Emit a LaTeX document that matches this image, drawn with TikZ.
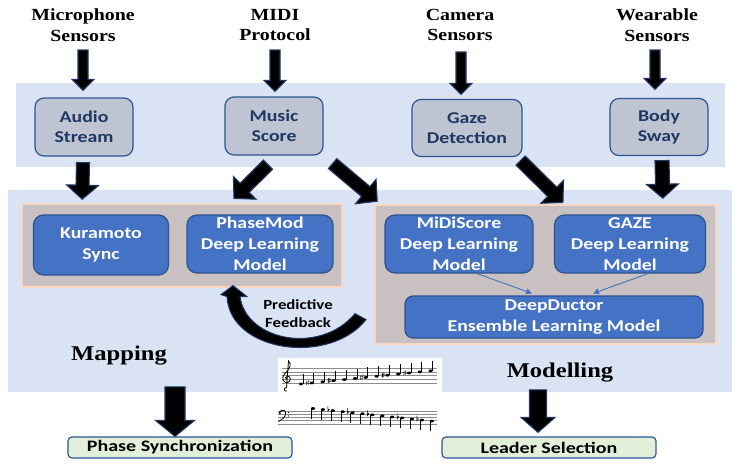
\documentclass[tikz,border=0pt]{standalone}
\usepackage{fontspec}
\setmainfont{Liberation Serif}[FakeStretch=1.17]
\newfontfamily\boxfont{Carlito}[FakeStretch=1.2]
\newfontfamily\botfont{Carlito}[FakeStretch=1.25]
\usetikzlibrary{calc,arrows.meta}
\definecolor{band}{HTML}{DAE3F3}
\definecolor{topfill}{HTML}{BEC4D1}
\definecolor{topborder}{HTML}{2F5597}
\definecolor{navytext}{HTML}{1F3864}
\definecolor{bluefill}{HTML}{4472C4}
\definecolor{blueborder}{HTML}{2F528F}
\definecolor{panelfill}{HTML}{C9C1C1}
\definecolor{panelborder}{HTML}{F6D8C2}
\definecolor{greenfill}{HTML}{E2F0D9}
\definecolor{greenborder}{HTML}{2F5597}
\definecolor{arrowline}{HTML}{203864}
\definecolor{staffgray}{HTML}{8C8C8C}
\newcommand\blockarr[5]{%
  \coordinate (ba1) at #1; \coordinate (ba2) at #2;
  \coordinate (bah) at ($(ba2)!#5!(ba1)$);
  \draw[barrow] ($(ba1)!#3!90:(ba2)$) -- ($(bah)!#3!90:(ba2)$) -- ($(bah)!#4!90:(ba2)$)
    -- (ba2) -- ($(bah)!#4!-90:(ba2)$) -- ($(bah)!#3!-90:(ba2)$) -- ($(ba1)!#3!-90:(ba2)$) -- cycle;
}
\tikzset{
  barrow/.style={fill=black, draw=arrowline, line width=1.1pt, line join=miter},
  lbl/.style={font=\fontsize{17}{20.5}\selectfont\bfseries, align=center, inner sep=0pt},
  biglbl/.style={font=\fontsize{21}{24}\selectfont\bfseries, inner sep=0pt},
  topbox/.style={draw=topborder, fill=topfill, line width=1.2pt, rounded corners=9pt,
    text=navytext, font=\boxfont\fontsize{16.5}{20}\selectfont\bfseries, align=center, inner sep=0pt},
  bluebox/.style={draw=blueborder, fill=bluefill, line width=1.2pt, rounded corners=10pt,
    text=white, font=\boxfont\fontsize{16.5}{20.5}\selectfont\bfseries, align=center, inner sep=0pt},
  panel/.style={draw=panelborder, fill=panelfill, line width=1.6pt, inner sep=0pt},
  botbox/.style={draw=greenborder, fill=greenfill, line width=1.2pt, rounded corners=4pt,
    font=\botfont\fontsize{16}{18}\selectfont\bfseries, inner sep=0pt},
  thinarr/.style={draw=bluefill, line width=0.9pt, -{Triangle[width=6pt,length=6pt]}},
  fbtext/.style={font=\boxfont\fontsize{14}{18}\selectfont\bfseries, align=center, inner sep=0pt}
}
\begin{document}
\begin{tikzpicture}[x=1pt,y=-1pt]
\useasboundingbox (0,0) rectangle (741,466);
\fill[white] (0,0) rectangle (741,466);
% bands
\fill[band] (16,83) rectangle (725,167);
\fill[band] (8,190) rectangle (732,392);
% panels
\node[panel, minimum width=320pt, minimum height=83pt] (lp) at (182,245.5) {};
\node[panel, minimum width=341pt, minimum height=139pt] (rp) at (545.5,274.5) {};
% top labels
\node[lbl] (mic) at (83,25) {Microphone\\Sensors};
\node[lbl] (midi) at (275,25) {MIDI\\Protocol};
\node[lbl] (cam) at (460,25) {Camera\\Sensors};
\node[lbl] (wear) at (657,25) {Wearable\\Sensors};
% top boxes
\node[topbox, minimum width=98pt, minimum height=58pt] (audio) at (84,127) {Audio\\Stream};
\node[topbox, minimum width=98pt, minimum height=58pt] (music) at (274,126) {Music\\Score};
\node[topbox, minimum width=110pt, minimum height=57pt] (gaze) at (467,128) {Gaze\\Detection};
\node[topbox, minimum width=98pt, minimum height=57pt] (body) at (659,127) {Body\\Sway};
% blue boxes
\node[bluebox, minimum width=135pt, minimum height=60pt] (kura) at (101,245) {Kuramoto\\Sync};
\node[bluebox, minimum width=146pt, minimum height=58pt, font=\boxfont\fontsize{16.5}{21}\selectfont\bfseries] (phasemod) at (260,244) {PhaseMod\\Deep Learning\\Model};
\node[bluebox, minimum width=148pt, minimum height=58pt, font=\boxfont\fontsize{16.5}{21}\selectfont\bfseries] (midiscore) at (459,244) {MiDiScore\\Deep Learning\\Model};
\node[bluebox, minimum width=151pt, minimum height=58pt, font=\boxfont\fontsize{16.5}{21}\selectfont\bfseries] (gazedl) at (630,244) {GAZE\\Deep Learning\\Model};
\node[bluebox, minimum width=298pt, minimum height=42pt, rounded corners=8pt] (deep) at (554,317) {DeepDuctor\\Ensemble Learning Model};
% thin arrows
\draw[thinarr] ($(midiscore.south)+(18,0)$) -- ($(deep.north)+(-22,-2)$);
\draw[thinarr] ($(gazedl.south)+(18,0)$) -- ($(deep.north)+(39,-2)$);
% top arrows
\blockarr{($(mic.center)+(0,25)$)}{($(audio.north)+(-1,-7)$)}{5pt}{11pt}{11pt}
\blockarr{($(midi.center)+(0,25)$)}{($(music.north)+(1,-5)$)}{5pt}{11pt}{11pt}
\blockarr{($(cam.center)+(1,27)$)}{($(gaze.north)+(-6,-4.5)$)}{5pt}{11pt}{11pt}
\blockarr{($(wear.center)+(-2,25)$)}{($(body.north)+(-4,-8.5)$)}{5pt}{11pt}{11pt}
% second row arrows
\blockarr{($(audio.south)+(-1,6)$)}{($(lp.north west)+(61,-4)$)}{6.5pt}{16pt}{14pt}
\blockarr{($(music.south)+(-6,9)$)}{($(phasemod.north)+(-26,-16)$)}{6.5pt}{16pt}{15pt}
\blockarr{($(music.south east)+(9,8)$)}{($(rp.north west)+(3,-3)$)}{6.5pt}{16pt}{15pt}
\blockarr{($(gaze.south east)+(-2,3.5)$)}{($(gazedl.north west)+(9,-12)$)}{6.5pt}{16pt}{15pt}
\blockarr{($(body.south)+(3,4.5)$)}{($(rp.north east)+(-54,-6)$)}{7pt}{16pt}{14pt}
% predictive feedback
\coordinate (fbtip) at ($(phasemod.south)+(-27,12)$);
\begin{scope}[shift={(fbtip)}]
\draw[fill=black, draw=arrowline, line width=1pt] (0,0) -- (14,11) -- (7,11)
  .. controls (13,55) and (87,70) .. (122,28) -- (133,34)
  .. controls (97,80) and (-3,67) .. (-6,11) -- (-12,9) -- cycle;
\end{scope}
\node[fbtext] (fb) at (298,314) {Predictive\\Feedback};
% labels
\node[biglbl] (mapping) at (119,356) {Mapping};
\node[biglbl] (modelling) at (560,373) {Modelling};
% music score
\fill[white] (278,358) rectangle (442,392);
\foreach \k in {0,...,4} {\draw[staffgray, line width=0.5pt] (282,368+\k*3.75) -- (437,368+\k*3.75);}
\foreach \k in {0,...,4} {\draw[staffgray, line width=0.5pt] (278,411+\k*3.2) -- (437,411+\k*3.2);}
\draw[line width=0.8pt] (287,391) .. controls (284,392) and (283,388) .. (286.5,387.5) -- (288.5,361)
  .. controls (292,364) and (290,369) .. (284.5,374) .. controls (281,378) and (283,383) .. (287.5,382.5)
  .. controls (291.5,382) and (291,376) .. (287.5,376) .. controls (285,376) and (285,379) .. (287,379.5);
\fill (279.8,413) circle (1.2);
\draw[line width=0.8pt] (279,412.5) .. controls (282,408.5) and (286.5,410) .. (285.5,414.5) .. controls (284.5,418) and (281.5,420) .. (278.5,421.5);
\fill (288.5,412.5) circle (0.7); \fill (288.5,416) circle (0.7);
\foreach \i/\acc in {0/0,1/1,2/0,3/1,4/0,5/0,6/1,7/0,8/1,9/0,10/1,11/0,12/0} {
  \pgfmathsetmacro\nx{301+\i*10.8}
  \pgfmathsetmacro\ny{384-\i*1.1}
  \fill (\nx,\ny) ellipse [x radius=2.1, y radius=1.4];
  \draw[line width=0.45pt] (\nx+1.9,\ny) -- (\nx+1.9,\ny-10);
  \ifnum\acc=1
    \draw[line width=0.35pt] (\nx-5,\ny-2.5) -- (\nx-5,\ny+2.5) (\nx-3.5,\ny-3) -- (\nx-3.5,\ny+2)
      (\nx-6,\ny-0.5) -- (\nx-2.5,\ny-1.3) (\nx-6,\ny+1.3) -- (\nx-2.5,\ny+0.5);
  \fi
}
\foreach \i/\acc in {0/0,1/0,2/1,3/0,4/1,5/0,6/1,7/0,8/0,9/1,10/0,11/1,12/0} {
  \pgfmathsetmacro\nx{313+\i*9.9}
  \pgfmathsetmacro\ny{408.5+\i*1.05}
  \fill (\nx,\ny) ellipse [x radius=2.1, y radius=1.4];
  \draw[line width=0.45pt] (\nx-1.9,\ny) -- (\nx-1.9,\ny+10);
  \ifnum\acc=1
    \draw[line width=0.4pt] (\nx-5,\ny-4.5) -- (\nx-5,\ny+1) .. controls (\nx-2.8,\ny-1) and (\nx-3,\ny-2.5) .. (\nx-5,\ny-0.8);
  \fi
}
% bottom arrows and boxes
\node[botbox, minimum width=224pt, minimum height=21pt] (phasesync) at (180,447.5) {Phase Synchronization};
\node[botbox, minimum width=214pt, minimum height=21pt] (leader) at (549,447.5) {Leader Selection};
\coordinate (mapout) at ($(mapping.south)+(56,21)$);
\coordinate (modout) at ($(modelling.south)+(-22,7)$);
\blockarr{(mapout)}{($(phasesync.north)+(-5,0)$)}{10pt}{19.5pt}{16pt}
\blockarr{(modout)}{($(leader.north)+(-11,-4)$)}{8.5pt}{17pt}{15pt}
\end{tikzpicture}
\end{document}
